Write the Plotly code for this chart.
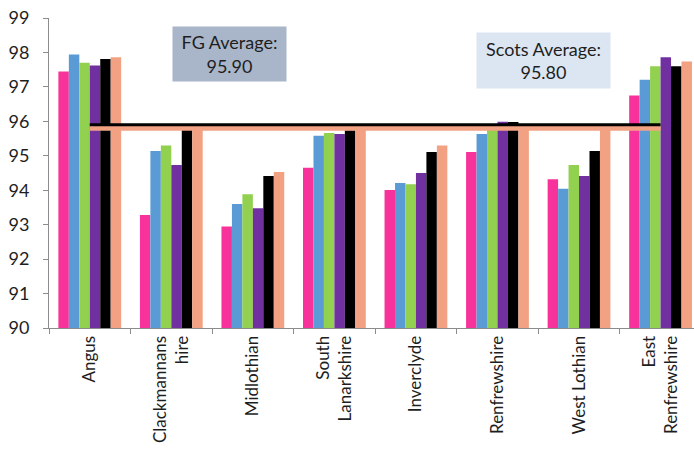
import plotly.graph_objects as go

# Council areas along the x axis
councils = [
    "Angus", "Clackmannans<br>hire", "Midlothian", "South<br>Lanarkshire",
    "Inverclyde", "Renfrewshire", "West Lothian", "East<br>Renfrewshire",
]

# Six yearly series per council (percent)
series_a = [97.45, 93.28, 92.95, 94.65, 94.01, 95.11, 94.32, 96.75]
series_b = [97.94, 95.14, 93.60, 95.58, 94.21, 95.63, 94.04, 97.21]
series_c = [97.70, 95.30, 93.88, 95.66, 94.17, 95.77, 94.73, 97.60]
series_d = [97.62, 94.73, 93.48, 95.63, 94.50, 95.99, 94.41, 97.86]
series_e = [97.81, 95.76, 94.41, 95.74, 95.11, 95.98, 95.14, 97.60]
series_f = [97.86, 95.80, 94.53, 95.80, 95.30, 95.80, 95.80, 97.74]

fg_average = 95.90
scots_average = 95.80

y_ticks = [90, 91, 92, 93, 94, 95, 96, 97, 98, 99]

series = [series_a, series_b, series_c, series_d, series_e, series_f]
colors = ["#f7329a", "#5b9bd5", "#92d050", "#7030a0", "#000000", "#f2a283"]

fig = go.Figure()
for vals, col in zip(series, colors):
    fig.add_trace(go.Bar(x=councils, y=vals, marker=dict(color=col, line=dict(width=0)),
                         showlegend=False))

# Average reference lines spanning the councils
fig.add_trace(go.Scatter(x=councils, y=[scots_average] * len(councils), mode="lines",
                         line=dict(color="#f2a283", width=5), showlegend=False))
fig.add_trace(go.Scatter(x=councils, y=[fg_average] * len(councils), mode="lines",
                         line=dict(color="#000000", width=3), showlegend=False))

text_font = dict(family="Lato, Carlito, Calibri, sans-serif", size=18, color="#1e1e1e")

fig.add_annotation(xref="paper", yref="paper", x=0.2794, y=0.8823,
                   xanchor="center", yanchor="middle",
                   text=f"FG Average:<br>{fg_average:.2f}", showarrow=False,
                   bgcolor="#a9b6c9", width=113, height=54, borderpad=0,
                   font=text_font, align="center")
fig.add_annotation(xref="paper", yref="paper", x=0.767, y=0.8645,
                   xanchor="center", yanchor="middle",
                   text=f"Scots Average:<br>{scots_average:.2f}", showarrow=False,
                   bgcolor="#dce6f2", width=133, height=55, borderpad=0,
                   font=text_font, align="center")

fig.update_layout(
    width=694, height=454,
    margin=dict(l=49, r=0, t=18, b=126),
    paper_bgcolor="white", plot_bgcolor="white",
    barmode="group", bargap=0.23, bargroupgap=0,
    font=dict(family="Lato, Carlito, Calibri, sans-serif", color="#1e1e1e"),
    xaxis=dict(
        range=[-0.5, 7.41], tickson="boundaries", ticks="outside", ticklen=5,
        tickcolor="#8c8c8c", showline=True, linecolor="#8c8c8c", linewidth=1,
        tickangle=-90, tickfont=dict(size=17), showgrid=False, automargin=False,
    ),
    yaxis=dict(
        range=[90, 99], tickvals=y_ticks, ticks="outside", ticklen=5,
        tickcolor="#8c8c8c", showline=True, linecolor="#8c8c8c", linewidth=1,
        tickfont=dict(size=18), showgrid=False, zeroline=False, automargin=False,
        ticklabelstandoff=10,
    ),
)

fig.write_html("out.html")
